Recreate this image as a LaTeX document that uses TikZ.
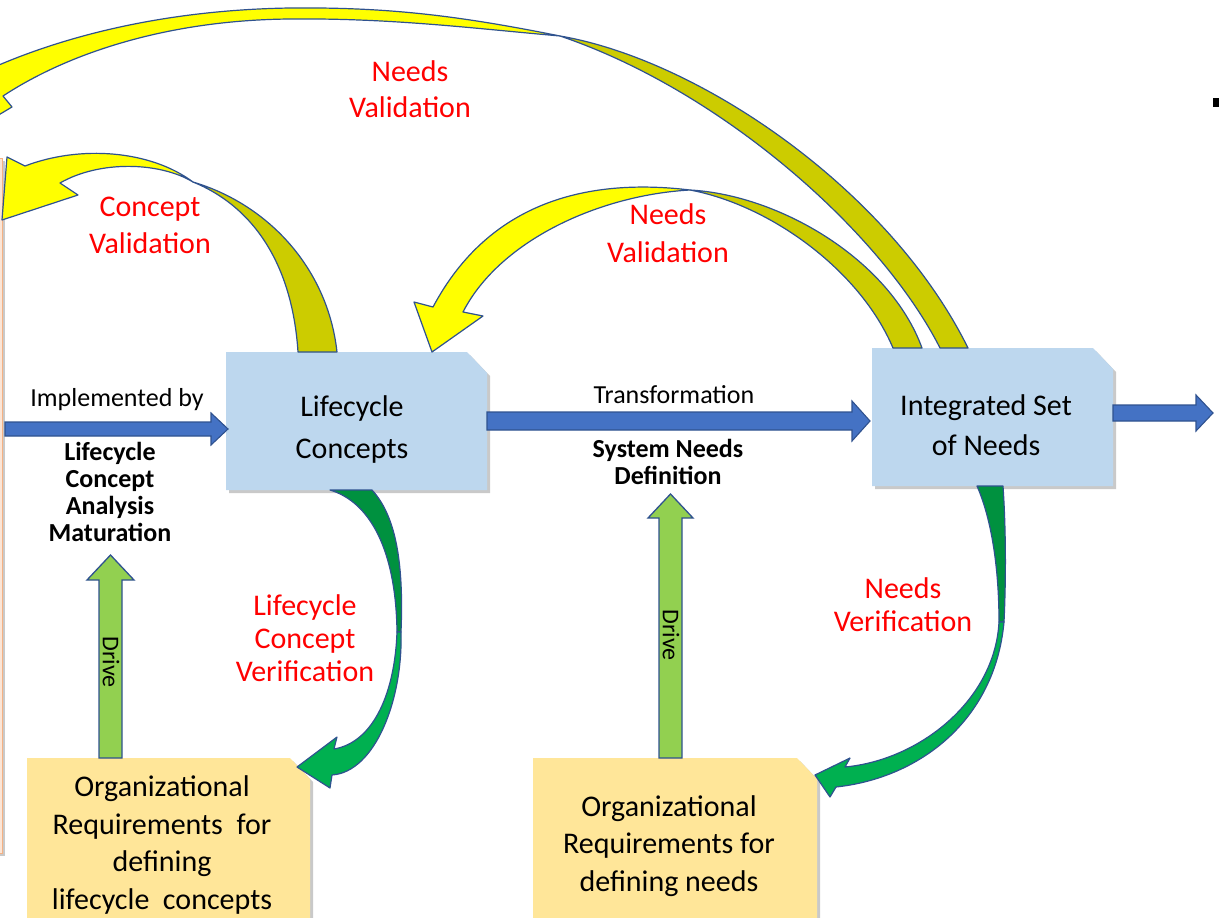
\documentclass[tikz,border=0pt]{standalone}
\usepackage{fontspec}
\setmainfont{Carlito}
\usetikzlibrary{shadows,calc}

\definecolor{bluefill}{HTML}{4472C4}
\definecolor{edgeblue}{HTML}{2F528F}
\definecolor{boxblue}{HTML}{BDD7EE}
\definecolor{boxyellow}{HTML}{FFE699}
\definecolor{drivegreen}{HTML}{92D050}
\definecolor{arrowyellow}{HTML}{FFFF00}
\definecolor{arrowolive}{HTML}{CCCC00}
\definecolor{verifygreen}{HTML}{00B050}
\definecolor{verifydark}{HTML}{00913F}
\definecolor{labelred}{HTML}{FF0000}
\definecolor{sidebox}{HTML}{FBE5D6}
\definecolor{sideedge}{HTML}{F4B183}

% outline of a box with its top right corner cut off
\newcommand\chamferbox[2]{%
  \path[fill=#2,softshadow] (#1.south west) -- (#1.north west) -- ([xshift=-20pt]#1.north east)
    -- ([yshift=-21pt]#1.north east) -- (#1.south east) -- cycle;}

\begin{document}
\begin{tikzpicture}[x=1pt,y=-1pt,
  softshadow/.style={drop shadow={shadow xshift=3pt,shadow yshift=-3pt,opacity=0.3,fill=black!70}},
  notebox/.style={rectangle,inner sep=0pt,outer sep=0pt,draw=none},
  boxtext/.style={align=center,inner sep=0pt,font=\fontsize{30}{#1}\selectfont},
  smalltext/.style={align=center,inner sep=0pt,font=\fontsize{26}{27}\selectfont},
  boldtext/.style={align=center,inner sep=0pt,font=\fontsize{26}{27}\selectfont\bfseries},
  redtext/.style={align=center,inner sep=0pt,text=labelred,font=\fontsize{30}{#1}\selectfont},
  drivetext/.style={inner sep=0pt,rotate=-90,font=\fontsize{24}{26}\selectfont},
  blockarrow/.style={fill=bluefill,draw=edgeblue,line width=1.1pt,line join=miter},
  drivearrow/.style={fill=drivegreen,draw=edgeblue,line width=1.3pt,line join=miter},
  yband/.style={fill=arrowyellow,draw=edgeblue,line width=1.2pt,line join=round},
  oband/.style={fill=arrowolive,draw=edgeblue,line width=1.2pt,line join=round},
  gband/.style={fill=verifygreen,draw=edgeblue,line width=1.2pt,line join=round},
  dband/.style={fill=verifydark,draw=edgeblue,line width=1.2pt,line join=round}]

\useasboundingbox (0,0) rectangle (1219,918);

% box edge entering from the left margin
\path[fill=sidebox,draw=sideedge,line width=1pt,softshadow] (-20,158) rectangle (2,853);
% fragment of a glyph at the right margin
\fill[black] (1213,98) rectangle (1219,107);

% ---- main boxes ----
\node[notebox,minimum width=261pt,minimum height=138pt] (lc) at (356.5,421) {};
\node[notebox,minimum width=241pt,minimum height=138pt] (isn) at (992.5,417) {};
\node[notebox,minimum width=283pt,minimum height=182pt] (olc) at (168.5,849) {};
\node[notebox,minimum width=284pt,minimum height=182pt] (on) at (675,849) {};
\chamferbox{lc}{boxblue}
\chamferbox{isn}{boxblue}
\chamferbox{olc}{boxyellow}
\chamferbox{on}{boxyellow}

% ---- straight block arrows ----
\coordinate (inL) at (5,429);
\coordinate (outR) at (1213,413);
\path[blockarrow] let \p1=(inL), \p2=(lc.west) in
  (\x1,\y1+7pt) -- (\x2-15pt,\y1+7pt) -- (\x2-15pt,\y1+16pt) -- (\x2+2pt,\y1)
  -- (\x2-15pt,\y1-16pt) -- (\x2-15pt,\y1-7pt) -- (\x1,\y1-7pt) -- cycle;
\path[blockarrow] let \p1=(lc.east), \p2=(isn.west) in
  (\x1,\y1+9pt) -- (\x2-20pt,\y1+9pt) -- (\x2-20pt,\y1+20pt) -- (\x2-2pt,\y1)
  -- (\x2-20pt,\y1-20pt) -- (\x2-20pt,\y1-9pt) -- (\x1,\y1-9pt) -- cycle;
\path[blockarrow] let \p1=(isn.east), \p2=(outR) in
  (\x1,\y2+8pt) -- (\x2-17pt,\y2+8pt) -- (\x2-17pt,\y2+18pt) -- (\x2,\y2)
  -- (\x2-17pt,\y2-18pt) -- (\x2-17pt,\y2-8pt) -- (\x1,\y2-8pt) -- cycle;

% ---- drive arrows ----
\coordinate (drvL) at (110.5,555);
\coordinate (drvM) at (670.5,494);
\path[drivearrow] let \p1=(drvL), \p2=(olc.north) in
  (\x1-11.5pt,\y2) -- (\x1-11.5pt,\y1-25pt) -- (\x1-23.5pt,\y1-25pt) -- (\x1,\y1)
  -- (\x1+23.5pt,\y1-25pt) -- (\x1+11.5pt,\y1-25pt) -- (\x1+11.5pt,\y2) -- cycle;
\path[drivearrow] let \p1=(drvM), \p2=(on.north) in
  (\x1-11.5pt,\y2) -- (\x1-11.5pt,\y1-24pt) -- (\x1-22.5pt,\y1-24pt) -- (\x1,\y1)
  -- (\x1+22.5pt,\y1-24pt) -- (\x1+11.5pt,\y1-24pt) -- (\x1+11.5pt,\y2) -- cycle;
\node[drivetext] (drvLtext) at (111,662) {Drive};
\node[drivetext] (drvMtext) at (671,635) {Drive};

% ---- curved validation arrows (yellow) ----
% long arc from the integrated set of needs back to the far left
\path[oband] (560,36) .. controls (700,60) and (890,190) .. (968,348)
  -- (940,348) .. controls (880,230) and (720,90) .. (560,36) -- cycle;
\path[yband] (560,36) .. controls (460,16) and (390,7) .. (290,8)
  .. controls (160,10) and (60,38) .. (-8,68) -- (-45,48) -- (-30,132) -- (12,107) -- (3,96)
  .. controls (70,52) and (170,20) .. (290,19) .. controls (390,18) and (470,28) .. (560,36) -- cycle;
% concept validation
\path[oband] (193,182) .. controls (250,205) and (292,260) .. (298,352)
  -- (337,352) .. controls (328,270) and (270,205) .. (193,182) -- cycle;
\path[yband] (193,182) .. controls (150,150) and (80,145) .. (25,166)
  -- (7,157) -- (2,220) -- (78,195) -- (60,183)
  .. controls (100,160) and (160,162) .. (193,182) -- cycle;
% needs validation back to the lifecycle concepts
\path[oband] (690,190) .. controls (780,195) and (890,260) .. (922,348)
  -- (893,348) .. controls (860,270) and (770,205) .. (690,190) -- cycle;
\path[yband] (690,190) .. controls (590,178) and (490,200) .. (433,307)
  -- (414,302) -- (432,352) -- (483,316) -- (463,312)
  .. controls (500,240) and (600,195) .. (690,190) -- cycle;

% ---- curved verification arrows (green) ----
\path[dband] (330,490) .. controls (370,502) and (396,550) .. (397,632)
  -- (401,632) .. controls (404,560) and (395,515) .. (372,490) -- cycle;
\path[gband] (397,632) .. controls (395,690) and (375,742) .. (334,749)
  -- (337,737) -- (297,767) -- (330,788) -- (332,775)
  .. controls (375,772) and (403,700) .. (401,632) -- cycle;
\path[dband] (977,486) .. controls (992,520) and (999,570) .. (999,622)
  -- (1004,622) .. controls (1006,580) and (1006,530) .. (1003,486) -- cycle;
\path[gband] (999,622) .. controls (995,700) and (920,760) .. (845,767)
  -- (850,758) -- (815,775) -- (830,797) -- (836,787)
  .. controls (920,778) and (995,720) .. (1004,622) -- cycle;

% ---- texts ----
\node[boxtext=42] (lctext) at (352,429) {Lifecycle\\Concepts};
\node[boxtext=40] (isntext) at (986,425) {Integrated Set\\of Needs};
\node[boxtext=37.5] (olctext) at (162,845) {Organizational\\Requirements\ \ for\\defining\\lifecycle\ \ concepts};
\node[boxtext=37.5] (ontext) at (669,846) {Organizational\\Requirements for\\defining needs};

\node[smalltext] (impl) at (117,400) {Implemented by};
\node[boldtext] (lcam) at (110,492) {Lifecycle\\Concept\\Analysis\\Maturation};
\node[smalltext] (trans) at (674,395) {Transformation};
\node[boldtext] (snd) at (668,462) {System Needs\\Definition};

\node[redtext=36] (nvtop) at (410,89) {Needs\\Validation};
\node[redtext=37] (cv) at (150,225) {Concept\\Validation};
\node[redtext=38] (nvmid) at (668,233) {Needs\\Validation};
\node[redtext=33] (lcv) at (305,638) {Lifecycle\\Concept\\Verification};
\node[redtext=33] (nver) at (903,605) {Needs\\Verification};

\end{tikzpicture}
\end{document}
